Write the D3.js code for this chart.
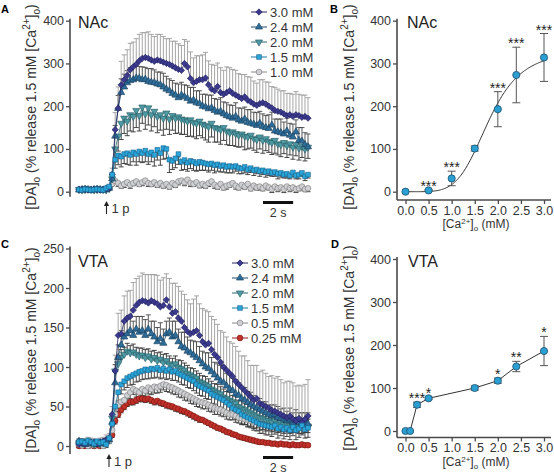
<!DOCTYPE html>
<html><head><meta charset="utf-8">
<script src="https://cdn.jsdelivr.net/npm/d3@7"></script>
<style>body{margin:0;background:#fff}</style>
</head><body>
<svg id="c" width="554" height="476"></svg>
<script>
// ---------------- DATA ----------------
const timeStep = 0.2; // s between samples
const nacLabels = ["3.0 mM","2.4 mM","2.0 mM","1.5 mM","1.0 mM"];
const vtaLabels = ["3.0 mM","2.4 mM","2.0 mM","1.5 mM","0.5 mM","0.25 mM"];
const nacTicks = [0,100,200,300,400];
const vtaTicks = [0,50,100,150,200,250];

// Panel A (NAc) time courses, % of 1.5 mM peak
const nac30 = [5,6,5,4,5,6,5,4,5,6,8, 40,145,195,250,262,272,285,292,298,306, 312,314,312,308,305,308,306,303,300,298, 294,290,286,284,300,292,265,255,258,262, 262,266,250,240,236,246,232,228,232,236, 230,226,222,218,222,214,210,205,202,206, 208,205,200,196,190,188,186,182,178,180, 176,180,178,174,176,172];
const nac24 = [4,5,6,5,4,5,6,5,4,6,8, 30,130,195,232,245,255,260,262,266,265, 262,263,258,256,255,252,250,245,240,236, 230,226,220,226,222,218,212,214,208,206, 200,198,194,196,190,186,188,182,178,175, 172,176,168,165,170,162,160,158,155,160, 152,150,148,156,142,140,138,135,142,132, 128,140,120,118,110,105];
const nac20 = [5,4,5,6,5,4,5,6,5,4,7, 30,100,130,160,172,165,180,176,190,178, 198,182,196,180,188,176,180,172,184,170, 178,172,175,170,168,165,168,162,160,165, 158,155,152,160,150,148,145,150,142,138, 140,136,132,135,130,128,132,125,122,128, 120,124,118,115,120,112,110,115,108,112, 104,110,102,106,100,104];
const nac15 = [5,4,6,5,4,5,6,5,4,8,12, 40,75,85,82,88,90,86,92,88,94, 90,96,88,92,86,98,90,102,100,75, 72,78,88,70,74,68,72,70,66,70, 68,66,64,66,62,64,60,62,58,60, 58,60,56,54,58,52,55,50,52,48, 50,46,48,44,46,42,44,40,42,38, 45,38,40,44,36,40];
const nac10 = [5,4,6,5,4,5,6,5,4,6,8, 18,25,20,14,18,22,16,20,24,18, 22,26,20,18,22,16,20,14,18,12, 20,16,24,26,22,28,20,18,22,15, 18,14,20,24,16,12,18,10,14,16, 20,14,10,16,12,18,8,14,10,12, 8,14,10,6,12,8,10,6,12,8, 10,6,8,12,6,8];
// SEM (3.0 & 2.4 drawn upward, others downward)
const nac30Err = [3,3,3,3,3,3,3,3,3,3,4, 15,40,50,55,58,60,62,58,60,62, 60,58,62,60,58,60,62,60,58,60, 58,62,60,58,56,60,62,58,60,56, 58,60,56,58,60,55,58,56,60,54, 56,58,54,56,52,55,58,54,52,56, 54,52,56,50,54,52,50,54,52,50, 52,54,50,52,50,48];
const nac24Err = [2,2,2,2,2,2,2,2,2,2,3, 10,25,30,32,30,28,30,32,30,28, 30,28,30,32,30,28,30,32,30,28, 30,28,32,30,28,30,32,30,28,30, 28,30,32,30,28,30,32,28,30,28, 30,32,28,30,28,30,32,28,30,28, 30,28,32,30,28,30,32,28,30,28, 30,28,30,32,28,30];
const nac20Err = [2,2,2,2,2,2,2,2,2,2,3, 10,30,35,38,36,34,38,36,40,36, 38,36,40,38,36,38,36,40,38,36, 34,36,38,36,34,36,38,34,36,34, 32,34,36,32,34,32,34,30,32,30, 32,30,28,30,32,28,30,28,30,28, 30,28,26,28,30,26,28,26,28,26, 28,26,28,26,28,26];
const nac15Err = [2,2,2,2,2,2,2,2,2,2,3, 8,20,22,24,22,26,24,22,26,24, 22,26,24,22,26,24,28,26,22,30, 20,22,24,20,22,20,18,20,18,20, 18,16,18,16,18,16,14,16,14,16, 14,12,14,12,14,12,10,12,10,12, 10,12,10,8,10,12,10,8,10,8, 10,8,10,8,10,8];
const nac10Err = [2,2,2,2,2,2,2,2,2,2,2, 4,6,8,6,8,6,8,6,8,6, 8,6,8,6,8,6,8,6,8,6, 8,6,8,6,8,6,8,6,8,6, 8,6,8,6,8,6,8,6,8,6, 6,8,6,8,6,8,6,8,6,8, 6,8,6,8,6,8,6,8,6,8, 6,8,6,8,6,8];

// Panel C (VTA) time courses
const vta30 = [2,4,3,6,5,4,3,5,6,8,10, 40,95,140,142,158,162,164,172,178,182, 184,183,181,184,182,180,176,178,185,176, 168,170,162,158,150,145,142,144,146,140, 132,128,130,122,116,112,106,100,96,92, 88,82,78,74,70,66,62,58,60,54, 52,50,48,45,44,42,40,38,36,38, 34,32,35,30,34,38];
const vta24 = [6,4,2,5,3,4,2,4,3,6,8, 30,80,112,128,138,142,146,140,148,144, 146,140,148,142,138,132,136,130,142,144, 138,140,132,126,124,120,118,115,112,108, 104,100,98,94,90,86,82,80,76,72, 70,66,64,60,58,55,52,50,48,46, 44,42,40,38,40,36,35,34,32,34, 30,32,30,28,30,28];
const vta20 = [4,6,3,5,4,2,5,3,4,6,8, 35,95,104,112,116,120,118,119,116,114, 115,112,114,110,112,108,110,106,108,104, 102,104,100,98,96,92,90,88,86,82, 80,78,76,72,70,68,66,62,60,58, 56,54,50,48,46,44,42,40,38,36, 35,33,32,30,32,28,30,27,28,26, 25,27,24,26,24,25];
const vta15 = [5,6,4,7,5,3,6,4,5,2,10, 28,50,68,78,82,86,88,90,92,94, 95,97,96,98,97,99,96,98,95,97, 94,95,92,90,88,86,84,82,78,76, 74,72,70,66,64,62,60,58,55,52, 48,46,44,40,38,36,34,32,30,28, 27,26,25,24,26,22,24,21,23,20, 24,20,22,26,21,23];
const vta05 = [2,1,3,0,2,1,3,2,0,4,6, 20,40,52,56,58,64,68,72,70,68, 72,70,74,72,75,74,76,78,77,75, 74,72,70,68,66,64,62,60,58,56, 55,54,52,50,48,47,46,44,42,40, 40,38,36,35,34,33,32,30,30,28, 28,27,27,26,26,25,25,24,25,24, 24,25,23,24,24,25];
const vta025 = [0,1,0,2,1,0,1,0,2,4,8, 14,32,40,46,50,54,56,56,58,60, 60,59,60,58,56,57,55,54,52,51, 50,48,47,45,44,42,40,38,36,34, 33,31,29,27,25,23,22,20,18,17, 15,14,12,11,10,9,8,7,6,5, 5,4,4,3,3,2,3,2,2,1, 2,1,1,2,1,1];
const vta30Err = [5,5,5,5,5,5,5,5,5,6,6, 10,20,28,30,32,34,33,35,34,33, 35,34,36,33,35,36,34,35,33,36, 38,36,40,38,42,40,38,42,44,40, 42,44,40,42,44,42,40,44,42,40, 42,44,42,40,44,42,40,44,42,40, 44,42,40,44,42,46,44,42,46,44, 46,44,42,46,44,46];
const vta24Err = [3,3,3,3,3,3,3,3,3,3,4, 8,14,16,18,20,18,20,18,16,20, 18,20,18,16,20,18,20,18,16,18, 20,18,16,18,20,18,16,18,20,18, 16,18,20,18,16,18,20,18,16,18, 16,18,16,14,16,14,16,14,12,14, 12,14,12,14,12,14,12,14,12,14, 12,14,12,14,12,14];
const vta20Err = [3,3,3,3,3,3,3,3,3,3,3, 5,8,9,10,9,10,9,10,9,10, 9,10,9,10,9,10,9,10,9,10, 9,10,9,10,9,10,9,10,9,10, 9,10,9,10,9,10,9,10,9,10, 8,9,8,9,8,9,8,9,8,9, 8,9,8,9,8,9,8,9,8,9, 8,9,8,9,8,9];
const vta15Err = [4,4,4,4,4,4,4,4,4,4,5, 8,10,11,12,11,12,11,12,11,12, 11,12,11,12,11,12,11,12,11,12, 11,12,11,12,11,12,11,12,11,12, 11,12,11,12,11,12,11,12,11,12, 11,12,11,12,11,12,11,12,11,12, 11,12,11,12,11,12,11,12,11,12, 11,12,11,12,11,12];
const vta05Err = [3,3,3,3,3,3,3,3,3,3,3, 5,7,8,7,8,7,8,7,8,7, 8,7,8,7,8,7,8,7,8,7, 8,7,8,7,8,7,8,7,8,7, 8,7,8,7,8,7,8,7,8,7, 7,8,7,8,7,8,7,8,7,8, 7,8,7,8,7,8,7,8,7,8, 7,8,7,8,7,8];
const vta025Err = [2,2,2,2,2,2,2,2,2,2,2, 3,4,4,4,4,4,4,4,4,4, 4,4,4,4,4,4,4,4,4,4, 4,4,4,4,4,4,4,4,4,4, 3,3,3,3,3,3,3,3,3,3, 3,3,3,3,3,3,3,3,3,3, 2,2,2,2,2,2,2,2,2,2, 2,2,2,2,2,2];

// Panel B (NAc concentration–response)
const nacCa = [0,0.5,1.0,1.5,2.0,2.4,3.0];
const nacPeak = [0,3,31,101,193,273,314];
const nacPeakErr = [0,2,17,6,41,65,56];
const nacStars = ["","***","***","","***","***","***"];
const nacFit = {vmax:330, ec50:1.8, hill:5}; // Hill fit parameters
// Panel D (VTA concentration–response)
const vtaCa = [0,0.1,0.25,0.5,1.5,2.0,2.4,3.0];
const vtaPeak = [0,0,61,76,100,117,150,186];
const vtaPeakErr = [0,0,6,3,5,6,12,34];
const vtaStars = ["","","***","*","","*","**","*"];
const caTicks = [0,0.5,1.0,1.5,2.0,2.5,3.0];

// ---------------- DRAW ----------------
const FONT = "Arial, 'Liberation Sans', Helvetica, sans-serif";
const svg = d3.select("#c").attr("font-family", FONT);
const AX = "#4a4a4a", TXT = "#333";

const sty = {
  "3.0": {kind:"diamond", fill:"#3b3a8e", stroke:"#1d1d58", line:"#26265e"},
  "2.4": {kind:"up", fill:"#2e6d99", stroke:"#163a55", line:"#1f4b6b"},
  "2.0": {kind:"down", fill:"#4e9aa4", stroke:"#24575e", line:"#2f6b73"},
  "1.5": {kind:"square", fill:"#2aa6da", stroke:"#15608a", line:"#1b77a3"},
  "gray": {kind:"circle", fill:"#cfd0d3", stroke:"#777", line:"#888"},
  "red": {kind:"circle", fill:"#c3302a", stroke:"#761510", line:"#8e1c17"}
};
function sym(kind){
  const m = {diamond:[d3.symbolSquare,20,45], up:[d3.symbolTriangle,22,0], down:[d3.symbolTriangle,22,180], square:[d3.symbolSquare,22,0], circle:[d3.symbolCircle,26,0]};
  const [t,s,r] = m[kind];
  return {d:d3.symbol(t,s)(), r};
}
function yLabel(cx, cy){
  const t = svg.append("text").attr("transform",`translate(${cx},${cy}) rotate(-90)`)
    .attr("text-anchor","middle").attr("font-size",14).attr("fill",TXT);
  t.append("tspan").text("[DA]");
  t.append("tspan").attr("font-size",10).attr("dy",4).text("o");
  t.append("tspan").attr("dy",-4).text(" (% release 1.5 mM [Ca");
  t.append("tspan").attr("font-size",10).attr("dy",-6).text("2+");
  t.append("tspan").attr("dy",6).text("]");
  t.append("tspan").attr("font-size",10).attr("dy",4).text("o");
  t.append("tspan").attr("dy",-4).text(")");
}
function xTitle(cx, by){
  const t = svg.append("text").attr("x",cx).attr("y",by).attr("text-anchor","middle").attr("font-size",12).attr("fill",TXT);
  t.append("tspan").text("[Ca");
  t.append("tspan").attr("font-size",8).attr("dy",-4).text("2+");
  t.append("tspan").attr("dy",4).text("]");
  t.append("tspan").attr("font-size",8).attr("dy",3).text("o");
  t.append("tspan").attr("dy",-3).text(" (mM)");
}
function letter(txt,x,y){ svg.append("text").attr("x",x).attr("y",y).attr("font-size",11).attr("font-weight","bold").text(txt); }
function title(txt,x,y){ svg.append("text").attr("x",x).attr("y",y).attr("font-size",16).attr("fill","#222").text(txt); }

function yAxis(y, ticks, ax, top, bottom){
  const g = svg.append("g").attr("transform",`translate(${ax},0)`)
    .call(d3.axisLeft(y).tickValues(ticks).tickSize(4).tickPadding(2).tickFormat(d3.format("d")));
  g.select(".domain").remove();
  g.selectAll("line").attr("stroke",AX).attr("stroke-width",1.3);
  g.selectAll("text").attr("font-size",12.5).attr("fill",TXT).attr("font-family",FONT);
  svg.append("line").attr("x1",ax).attr("x2",ax).attr("y1",top).attr("y2",bottom).attr("stroke",AX).attr("stroke-width",1.6);
}

function timePanel(o){
  const n = o.series[0].vals.length;
  const times = d3.range(n).map(i => i*timeStep);
  const x = d3.scaleLinear().domain([0,(n-1)*timeStep]).range([79,308]);
  const y = d3.scaleLinear().domain([0,o.yMax]).range(o.yRange);
  yAxis(y, o.ticks, 70, y(o.yMax)-2, y(0)+o.ext);
  const g = svg.append("g");
  // error bars
  o.series.forEach(s => {
    const col = s.errColor;
    s.vals.forEach((v,i) => {
      const y0 = y(v), y1 = y(v + s.dir*s.errs[i]), xx = x(times[i]);
      g.append("line").attr("x1",xx).attr("x2",xx).attr("y1",y0).attr("y2",y1).attr("stroke",col).attr("stroke-width",0.9);
      g.append("line").attr("x1",xx-2.5).attr("x2",xx+2.5).attr("y1",y1).attr("y2",y1).attr("stroke",col).attr("stroke-width",0.9);
    });
  });
  // lines + markers
  o.series.forEach(s => {
    const st = sty[s.style];
    g.append("path").datum(s.vals).attr("fill","none").attr("stroke",st.line).attr("stroke-width",0.8)
      .attr("d", d3.line().x((d,i)=>x(times[i])).y(d=>y(d)));
    const sp = sym(st.kind);
    g.selectAll(null).data(s.vals).join("path")
      .attr("d",sp.d).attr("transform",(d,i)=>`translate(${x(times[i])},${y(d)}) rotate(${sp.r})`)
      .attr("fill",st.fill).attr("stroke",st.stroke).attr("stroke-width",0.6);
  });
  // legend
  o.legend.forEach((L,k) => {
    const st = sty[L.style], yy = o.legY + k*15;
    svg.append("line").attr("x1",o.legX-8).attr("x2",o.legX+8).attr("y1",yy).attr("y2",yy).attr("stroke",st.line).attr("stroke-width",1);
    const sp = sym(st.kind);
    svg.append("path").attr("d",sp.d).attr("transform",`translate(${o.legX},${yy}) rotate(${sp.r})`).attr("fill",st.fill).attr("stroke",st.stroke).attr("stroke-width",0.6);
    svg.append("text").attr("x",o.legX+11).attr("y",yy+4.5).attr("font-size",13).attr("fill",TXT).text(L.label);
  });
  // stimulus arrow
  const ax = o.arrowX, ab = o.arrowY;
  svg.append("line").attr("x1",ax).attr("x2",ax).attr("y1",ab).attr("y2",ab-10).attr("stroke","#222").attr("stroke-width",1.1);
  svg.append("path").attr("d",`M${ax-2.6},${ab-8} L${ax},${ab-13} L${ax+2.6},${ab-8} Z`).attr("fill","#222");
  svg.append("text").attr("x",ax+5).attr("y",ab-1).attr("font-size",13).attr("fill",TXT).text("1 p");
  // scale bar 2 s
  const sb0 = 263;
  svg.append("line").attr("x1",sb0).attr("x2",sb0 + x(2)-x(0)).attr("y1",o.barY).attr("y2",o.barY).attr("stroke","#111").attr("stroke-width",3);
  svg.append("text").attr("x",sb0+(x(2)-x(0))/2).attr("y",o.barY+14).attr("text-anchor","middle").attr("font-size",12.5).attr("fill",TXT).text("2 s");
}

function crPanel(o){
  const x = d3.scaleLinear().domain([0,3]).range([405.5,544]);
  const y = d3.scaleLinear().domain([0,400]).range(o.yRange);
  yAxis(y, nacTicks, 397, y(400)-2, o.xAxisY);
  const gx = svg.append("g").attr("transform",`translate(0,${o.xAxisY})`)
    .call(d3.axisBottom(x).tickValues(caTicks).tickSize(4).tickPadding(2).tickFormat(d3.format(".1f")));
  gx.select(".domain").remove();
  gx.selectAll("line").attr("stroke",AX).attr("stroke-width",1.3);
  gx.selectAll("text").attr("font-size",12.5).attr("fill",TXT).attr("font-family",FONT);
  svg.append("line").attr("x1",397).attr("x2",551).attr("y1",o.xAxisY).attr("y2",o.xAxisY).attr("stroke",AX).attr("stroke-width",1.6);
  xTitle(476, o.xAxisY+28);
  const g = svg.append("g");
  if (o.fit) {
    const f = o.fit;
    const xs = d3.range(0, 3.0001, 0.02);
    g.append("path").datum(xs).attr("fill","none").attr("stroke","#333").attr("stroke-width",1)
      .attr("d", d3.line().x(d=>x(d)).y(d=> y(d<=0?0:f.vmax/(1+Math.pow(f.ec50/d,f.hill)))));
  } else {
    g.append("path").datum(o.ca).attr("fill","none").attr("stroke","#333").attr("stroke-width",1)
      .attr("d", d3.line().x(d=>x(d)).y((d,i)=>y(o.vals[i])));
  }
  o.ca.forEach((c,i) => {
    const e = o.errs[i]; if (e > 0) {
      const xx = x(c), t = y(o.vals[i]+e), b = y(o.vals[i]-e);
      g.append("line").attr("x1",xx).attr("x2",xx).attr("y1",t).attr("y2",b).attr("stroke","#555").attr("stroke-width",1);
      [t,b].forEach(yy => g.append("line").attr("x1",xx-4).attr("x2",xx+4).attr("y1",yy).attr("y2",yy).attr("stroke","#555").attr("stroke-width",1));
    }
  });
  g.selectAll(null).data(o.ca).join("circle").attr("cx",d=>x(d)).attr("cy",(d,i)=>y(o.vals[i])).attr("r",3.6)
    .attr("fill","#2b9fd2").attr("stroke","#1d4f6b").attr("stroke-width",0.8);
  o.ca.forEach((c,i) => {
    if (o.stars[i]) g.append("text").attr("x",x(c)).attr("y",y(o.vals[i]+o.errs[i])+1).attr("text-anchor","middle")
      .attr("font-size",14).attr("fill","#222").text(o.stars[i]);
  });
}

// Panel A
letter("A",1,13);
timePanel({
  yMax:400, yRange:[191.7,20.7], ticks:nacTicks, ext:5,
  series:[
    {vals:nac10, errs:nac10Err, dir:-1, style:"gray", errColor:"#333"},
    {vals:nac20, errs:nac20Err, dir:-1, style:"2.0", errColor:"#333"},
    {vals:nac24, errs:nac24Err, dir:1, style:"2.4", errColor:"#444"},
    {vals:nac30, errs:nac30Err, dir:1, style:"3.0", errColor:"#9c9c9c"},
    {vals:nac15, errs:nac15Err, dir:-1, style:"1.5", errColor:"#333"}
  ],
  legend: nacLabels.map((l,k)=>({label:l, style:["3.0","2.4","2.0","1.5","gray"][k]})),
  legX:259, legY:12, arrowX:106.5, arrowY:214, barY:202.5
});
title("NAc",78,28);
yLabel(36,107);

// Panel C
letter("C",1,248);
timePanel({
  yMax:250, yRange:[446,248.5], ticks:vtaTicks, ext:8,
  series:[
    {vals:vta025, errs:vta025Err, dir:-1, style:"red", errColor:"#333"},
    {vals:vta05, errs:vta05Err, dir:-1, style:"gray", errColor:"#333"},
    {vals:vta20, errs:vta20Err, dir:1, style:"2.0", errColor:"#333"},
    {vals:vta24, errs:vta24Err, dir:1, style:"2.4", errColor:"#444"},
    {vals:vta30, errs:vta30Err, dir:1, style:"3.0", errColor:"#9c9c9c"},
    {vals:vta15, errs:vta15Err, dir:-1, style:"1.5", errColor:"#333"}
  ],
  legend: vtaLabels.map((l,k)=>({label:l, style:["3.0","2.4","2.0","1.5","gray","red"][k]})),
  legX:240, legY:263, arrowX:109, arrowY:467, barY:457.5
});
title("VTA",78,267);
yLabel(36,350);

// Panel B
letter("B",330,13);
crPanel({yRange:[191.7,20.7], xAxisY:200, ca:nacCa, vals:nacPeak, errs:nacPeakErr, stars:nacStars, fit:nacFit});
title("NAc",407,28);
yLabel(354,107);

// Panel D
letter("D",331,248);
crPanel({yRange:[431,259], xAxisY:437.5, ca:vtaCa, vals:vtaPeak, errs:vtaPeakErr, stars:vtaStars, fit:null});
title("VTA",408,267);
yLabel(354,348);
</script>
</body></html>
